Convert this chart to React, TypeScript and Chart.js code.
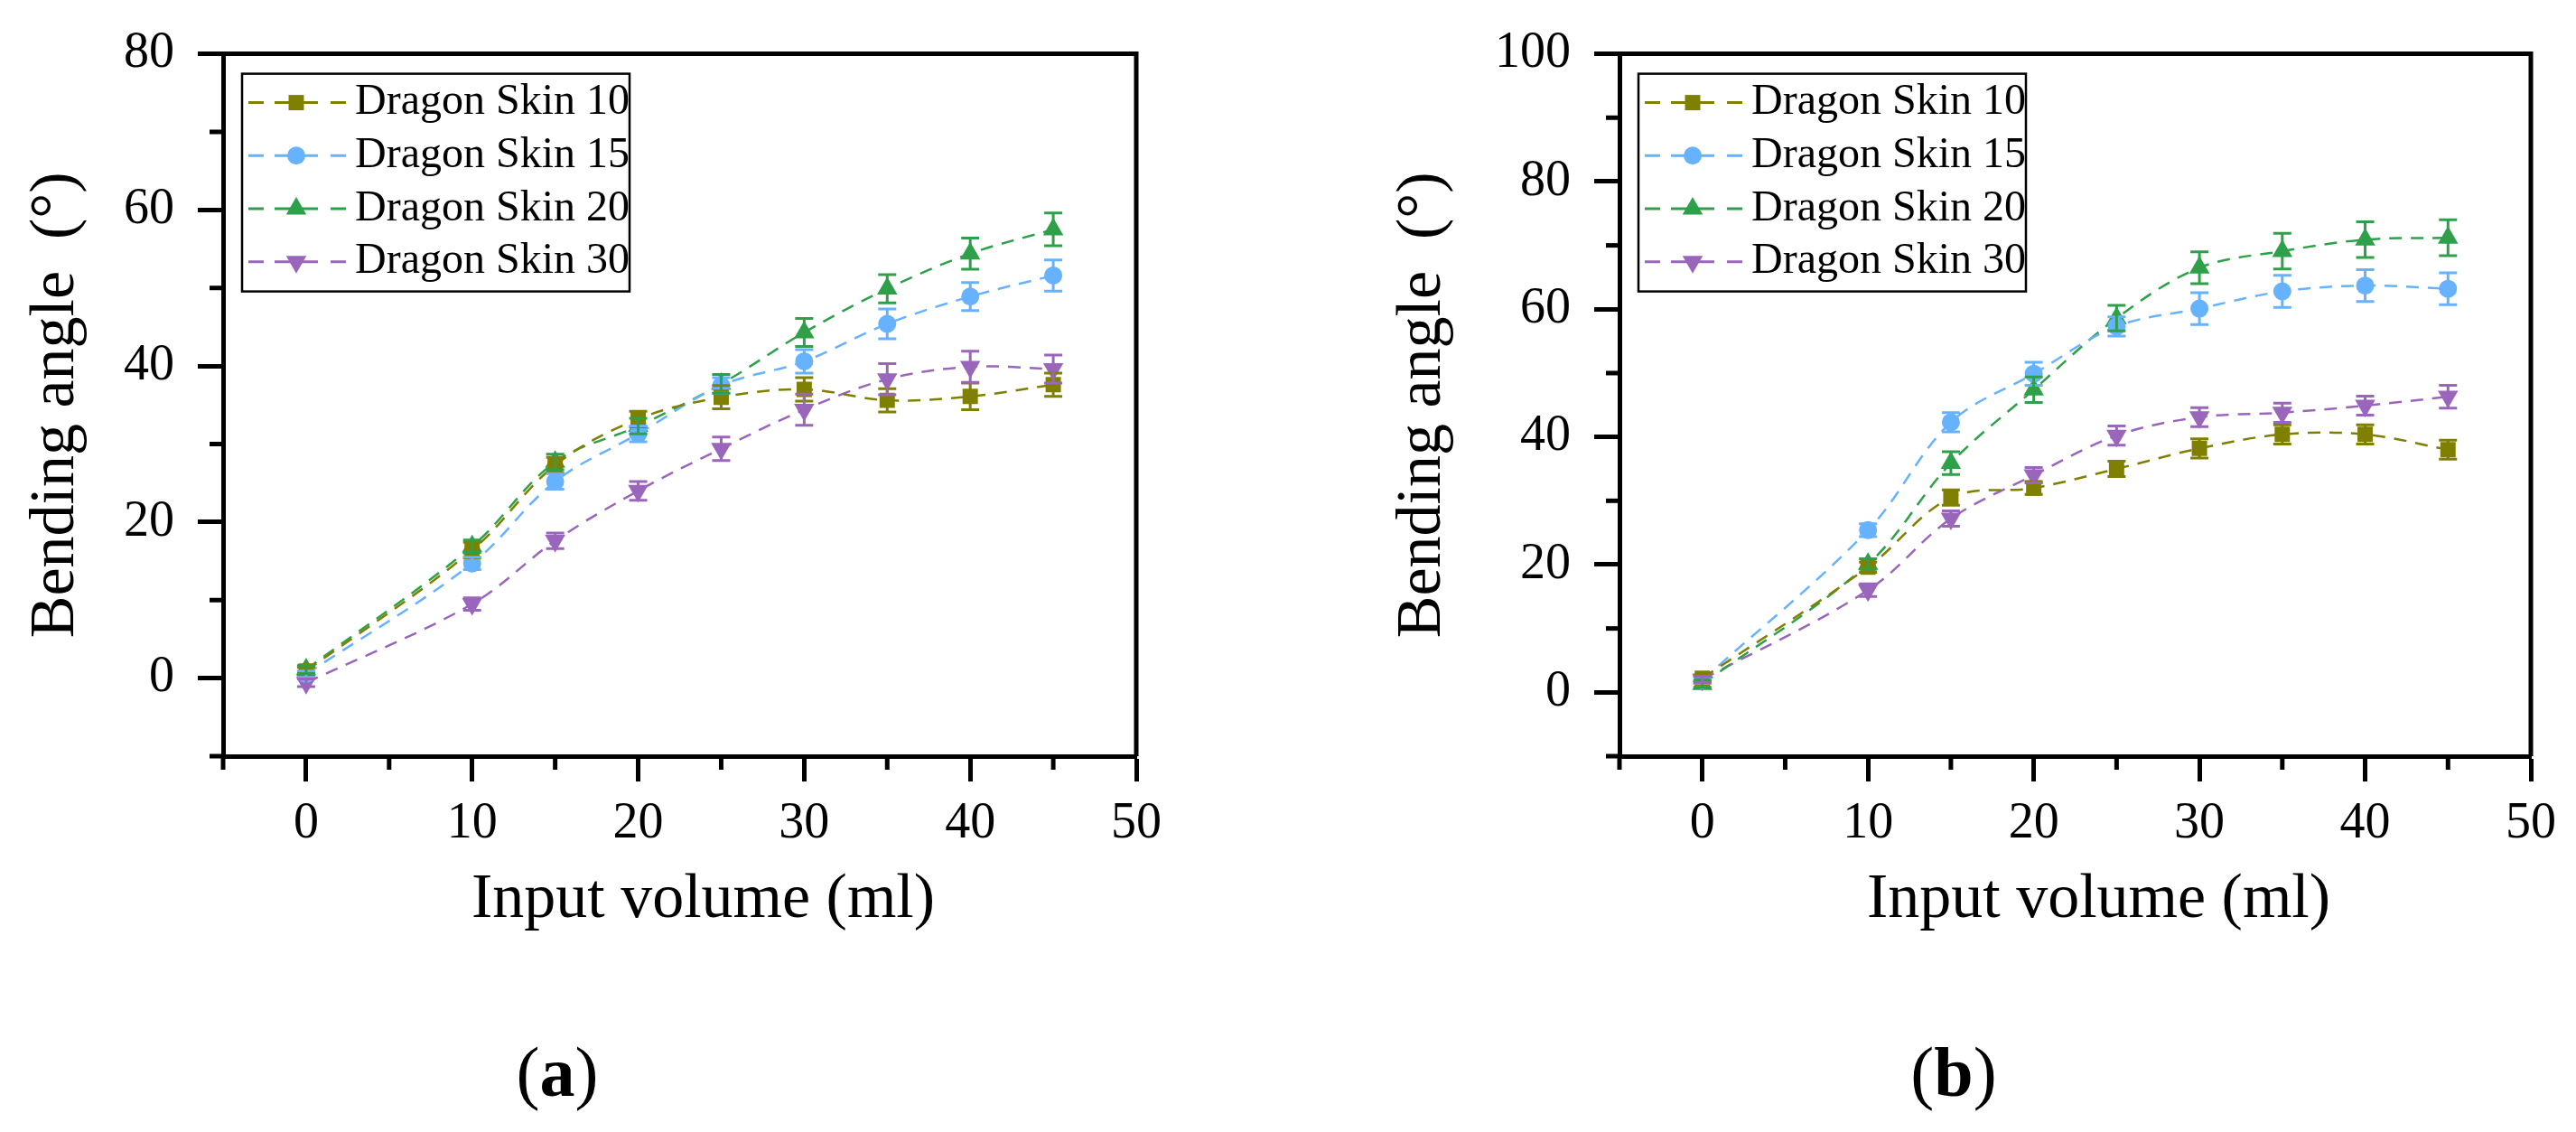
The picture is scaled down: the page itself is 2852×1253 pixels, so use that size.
import React, { useEffect, useRef } from 'react';
import { Chart, registerables } from 'chart.js';
import { drawPoint } from 'chart.js/helpers';

Chart.register(...registerables);

const FONT = "'Liberation Serif', 'Times New Roman', serif";

// shared x values (input volume, ml)
const volumes = [0, 10, 15, 20, 25, 30, 35, 40, 45];

const seriesNames = ['Dragon Skin 10', 'Dragon Skin 15', 'Dragon Skin 20', 'Dragon Skin 30'];
const seriesColors = ['#808000', '#66B2FF', '#2FA04A', '#9966BB'];
const markerStyles = ['rect', 'circle', 'triangle', 'triangle'];
const markerRotations = [0, 0, 0, 180];
const markerRadii = [12, 10, 13, 13];

// panel (a)
const angleA10 = [0.9, 16.4, 27.3, 33.2, 36.0, 37.0, 35.6, 36.1, 37.6];
const angleA15 = [0.5, 14.7, 25.2, 31.3, 37.5, 40.6, 45.4, 48.9, 51.6];
const angleA20 = [1.1, 16.9, 27.7, 32.3, 37.7, 44.3, 49.9, 54.4, 57.5];
const angleA30 = [-0.6, 9.5, 17.6, 24.0, 29.4, 34.4, 38.3, 39.9, 39.6];
const errA10 = [0.5, 1.0, 1.0, 1.0, 1.5, 1.5, 1.5, 1.7, 1.5];
const errA15 = [0.4, 0.8, 1.0, 1.0, 1.0, 1.5, 1.9, 1.8, 2.0];
const errA20 = [0.5, 0.8, 1.0, 1.0, 1.2, 1.8, 1.8, 2.0, 2.1];
const errA30 = [0.5, 0.8, 1.0, 1.2, 1.5, 2.0, 2.0, 2.0, 1.8];

// panel (b)
const angleB10 = [2.2, 19.6, 30.5, 32.0, 35.0, 38.2, 40.4, 40.4, 38.0];
const angleB15 = [1.9, 25.4, 42.3, 49.9, 57.3, 60.1, 62.8, 63.7, 63.2];
const angleB20 = [1.3, 20.1, 35.9, 47.4, 58.6, 66.5, 69.1, 70.9, 71.2];
const angleB30 = [2.0, 16.0, 27.2, 34.0, 40.2, 43.1, 43.8, 44.9, 46.3];
const errB10 = [0.5, 0.8, 1.2, 1.0, 1.2, 1.5, 1.5, 1.5, 1.5];
const errB15 = [0.5, 1.0, 1.5, 1.8, 1.5, 2.5, 2.5, 2.5, 2.5];
const errB20 = [0.5, 0.8, 1.8, 2.0, 2.0, 2.5, 2.8, 2.8, 2.8];
const errB30 = [0.5, 1.0, 1.2, 1.2, 1.5, 1.5, 1.5, 1.5, 1.8];

const xTicksMajor = 10;
const yTicksMajor = 20;

interface PanelProps {
  label: string;
  left: number;
  values: number[][];
  errors: number[][];
  yMax: number;
  yAxisWidth: number;
  padRight: number;
  yTitlePad: number;
}

// error bars, frame, minor ticks, legend box, x title and panel label
const makeDecorations = (label: string) => ({
  id: 'decorations',
  afterDatasetsDraw(chart: any) {
    const { ctx, scales } = chart;
    chart.data.datasets.forEach((ds: any, i: number) => {
      const meta = chart.getDatasetMeta(i);
      ctx.save();
      ctx.strokeStyle = ds.borderColor;
      ctx.lineWidth = 3;
      ctx.setLineDash([]);
      meta.data.forEach((pt: any, j: number) => {
        const v = ds.data[j].y;
        const e = ds.errors[j];
        const yTop = scales.y.getPixelForValue(v + e);
        const yBot = scales.y.getPixelForValue(v - e);
        ctx.beginPath();
        ctx.moveTo(pt.x, yTop);
        ctx.lineTo(pt.x, yBot);
        ctx.moveTo(pt.x - 10, yTop);
        ctx.lineTo(pt.x + 10, yTop);
        ctx.moveTo(pt.x - 10, yBot);
        ctx.lineTo(pt.x + 10, yBot);
        ctx.stroke();
      });
      ctx.restore();
    });
  },
  afterDraw(chart: any) {
    const { ctx, chartArea: a, scales } = chart;
    ctx.save();
    ctx.setLineDash([]);
    ctx.strokeStyle = '#000';

    // top and right frame
    ctx.lineWidth = 5;
    ctx.beginPath();
    ctx.moveTo(a.left, a.top);
    ctx.lineTo(a.right, a.top);
    ctx.lineTo(a.right, a.bottom);
    ctx.stroke();

    // minor ticks
    scales.x.ticks.forEach((t: any) => {
      if (t.value % xTicksMajor === 0) return;
      const x = scales.x.getPixelForValue(t.value);
      ctx.beginPath();
      ctx.moveTo(x, a.bottom);
      ctx.lineTo(x, a.bottom + 15);
      ctx.stroke();
    });
    scales.y.ticks.forEach((t: any) => {
      if (t.value % yTicksMajor === 0) return;
      const y = scales.y.getPixelForValue(t.value);
      ctx.beginPath();
      ctx.moveTo(a.left, y);
      ctx.lineTo(a.left - 15, y);
      ctx.stroke();
    });

    // legend
    const bx = a.left + 21;
    const by = a.top + 22;
    ctx.lineWidth = 2.5;
    ctx.strokeRect(bx, by, 429, 241);
    chart.data.datasets.forEach((ds: any, i: number) => {
      const cy = by + 32 + i * 58.7;
      ctx.strokeStyle = ds.borderColor;
      ctx.fillStyle = ds.borderColor;
      ctx.lineWidth = 3;
      ctx.beginPath();
      ctx.moveTo(bx + 7, cy);
      ctx.lineTo(bx + 24, cy);
      ctx.moveTo(bx + 36, cy);
      ctx.lineTo(bx + 84, cy);
      ctx.moveTo(bx + 98, cy);
      ctx.lineTo(bx + 115, cy);
      ctx.stroke();
      drawPoint(ctx, {
        pointStyle: ds.pointStyle,
        rotation: ds.pointRotation,
        radius: ds.pointRadius,
        borderWidth: 0,
      } as any, bx + 60, cy);
      ctx.fillStyle = '#000';
      ctx.font = `48px ${FONT}`;
      ctx.textAlign = 'left';
      ctx.textBaseline = 'middle';
      ctx.fillText(ds.label, bx + 125, cy);
    });

    // x axis title
    ctx.fillStyle = '#000';
    ctx.font = `70px ${FONT}`;
    ctx.textAlign = 'center';
    ctx.textBaseline = 'alphabetic';
    ctx.fillText('Input volume (ml)', (a.left + a.right) / 2 + 26, a.bottom + 178);

    // panel label "(a)" with bold letter
    const cx = a.left + 370;
    const base = a.bottom + 376;
    const normal = `78px ${FONT}`;
    const bold = `bold 78px ${FONT}`;
    ctx.font = normal;
    const wOpen = ctx.measureText('(').width;
    const wClose = ctx.measureText(')').width;
    ctx.font = bold;
    const wLetter = ctx.measureText(label).width;
    let x = cx - (wOpen + wLetter + wClose) / 2;
    ctx.textAlign = 'left';
    ctx.font = normal;
    ctx.fillText('(', x, base);
    x += wOpen;
    ctx.font = bold;
    ctx.fillText(label, x, base);
    x += wLetter;
    ctx.font = normal;
    ctx.fillText(')', x, base);
    ctx.restore();
  },
});

const Panel: React.FC<PanelProps> = ({ label, left, values, errors, yMax, yAxisWidth, padRight, yTitlePad }) => {
  const canvasRef = useRef<HTMLCanvasElement>(null);
  const chartRef = useRef<Chart | null>(null);

  useEffect(() => {
    if (!canvasRef.current) return;
    const datasets = seriesNames.map((name, i) => ({
      label: name,
      data: volumes.map((v, j) => ({ x: v, y: values[i][j] })),
      errors: errors[i],
      borderColor: seriesColors[i],
      backgroundColor: seriesColors[i],
      pointBackgroundColor: seriesColors[i],
      pointBorderColor: seriesColors[i],
      pointBorderWidth: 0,
      pointStyle: markerStyles[i],
      pointRotation: markerRotations[i],
      pointRadius: markerRadii[i],
      borderWidth: 2.5,
      borderDash: [14, 10],
      tension: 0.35,
      fill: false,
    }));

    chartRef.current = new Chart(canvasRef.current, {
      type: 'line',
      data: { datasets } as any,
      options: {
        animation: false,
        responsive: true,
        maintainAspectRatio: false,
        layout: { padding: { left: 0, top: 39, right: padRight, bottom: 0 } },
        plugins: {
          legend: { display: false },
          tooltip: { enabled: false },
        },
        scales: {
          x: {
            type: 'linear',
            min: -5,
            max: 50,
            afterFit: (s: any) => {
              s.height = 416;
            },
            grid: {
              display: true,
              drawOnChartArea: false,
              drawTicks: true,
              tickLength: 28,
              tickWidth: 5,
              tickColor: (c: any) => (c.tick && c.tick.value % xTicksMajor === 0 ? '#000' : 'rgba(0,0,0,0)'),
            },
            border: { display: true, color: '#000', width: 5 },
            ticks: {
              stepSize: 5,
              autoSkip: false,
              maxRotation: 0,
              padding: 14,
              color: '#000',
              font: { family: FONT, size: 56 },
              callback: (v: any) => (Number(v) % xTicksMajor === 0 ? String(v) : ''),
            },
          },
          y: {
            type: 'linear',
            min: -10,
            max: yMax,
            afterFit: (s: any) => {
              s.width = yAxisWidth;
            },
            grid: {
              display: true,
              drawOnChartArea: false,
              drawTicks: true,
              tickLength: 28,
              tickWidth: 5,
              tickColor: (c: any) => (c.tick && c.tick.value % yTicksMajor === 0 ? '#000' : 'rgba(0,0,0,0)'),
            },
            border: { display: true, color: '#000', width: 5 },
            ticks: {
              stepSize: 10,
              autoSkip: false,
              padding: 26,
              color: '#000',
              font: { family: FONT, size: 56 },
              callback: (v: any) => (Number(v) % yTicksMajor === 0 ? String(v) : ''),
            },
            title: {
              display: true,
              text: 'Bending angle  (°)',
              color: '#000',
              font: { family: FONT, size: 70 },
              padding: { top: yTitlePad, bottom: 0 },
            },
          },
        },
      },
      plugins: [makeDecorations(label)],
    });

    return () => {
      if (chartRef.current) {
        chartRef.current.destroy();
        chartRef.current = null;
      }
    };
  }, []);

  return (
    <div style={{ position: 'absolute', left, top: 0, width: 1426, height: 1253 }}>
      <canvas ref={canvasRef}></canvas>
    </div>
  );
};

const App: React.FC = () => {
  return (
    <div style={{ position: 'fixed', left: 0, top: 0, width: 2852, height: 1253, background: '#fff' }}>
      <Panel
        label="a"
        left={0}
        values={[angleA10, angleA15, angleA20, angleA30]}
        errors={[errA10, errA15, errA20, errA30]}
        yMax={80}
        yAxisWidth={247}
        padRight={168}
        yTitlePad={21}
      />
      <Panel
        label="b"
        left={1426}
        values={[angleB10, angleB15, angleB20, angleB30]}
        errors={[errB10, errB15, errB20, errB30]}
        yMax={100}
        yAxisWidth={367}
        padRight={50}
        yTitlePad={108}
      />
    </div>
  );
};

export default App;
